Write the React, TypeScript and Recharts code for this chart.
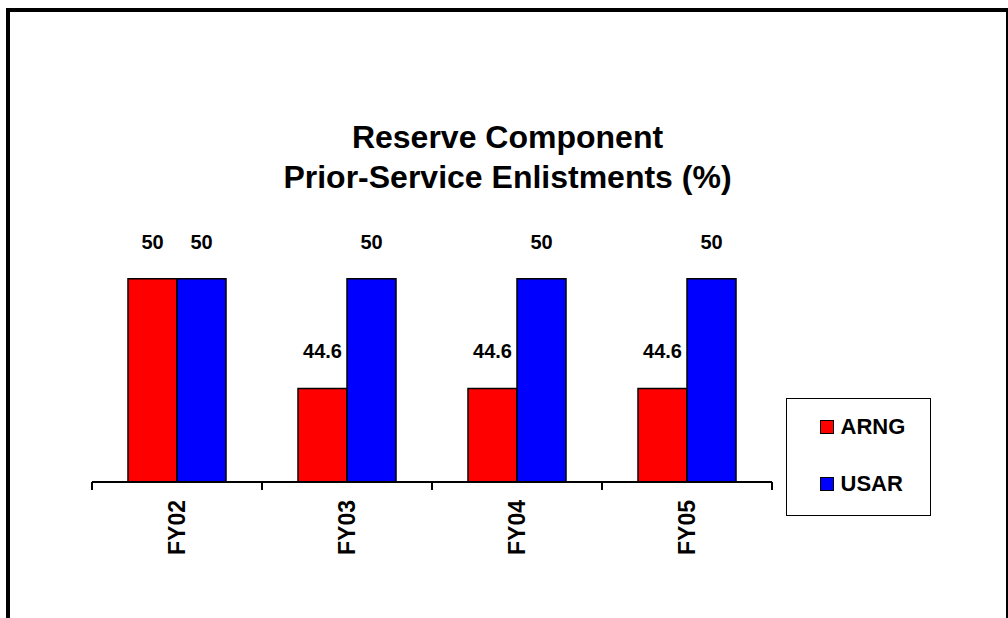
import React from 'react';
import { BarChart, Bar, XAxis, YAxis, LabelList, Legend } from 'recharts';

const categories = ['FY02', 'FY03', 'FY04', 'FY05'];
const arngValues = [50, 44.6, 44.6, 44.6];
const usarValues = [50, 50, 50, 50];
const seriesNames = ['ARNG', 'USAR'];
const seriesColors = ['#FF0000', '#0000FF'];
const titleLines = ['Reserve Component', 'Prior-Service Enlistments (%)'];
const yDomain = [40, 55];

const data = categories.map((c, i) => ({
  category: c,
  [seriesNames[0]]: arngValues[i],
  [seriesNames[1]]: usarValues[i],
}));

const FONT = '"Liberation Sans", Arial, Helvetica, sans-serif';

const CategoryTick = (props: any) => {
  const { x, y, payload, index } = props;
  const half = payload && typeof payload.offset === 'number' ? payload.offset : 85;
  const isLast = index === categories.length - 1;
  return (
    <g>
      <line x1={x - half} x2={x - half} y1={y - 8} y2={y} stroke="#000" strokeWidth={2} />
      {isLast && <line x1={x + half} x2={x + half} y1={y - 8} y2={y} stroke="#000" strokeWidth={2} />}
      <text
        x={x}
        y={y + 10}
        transform={`rotate(-90, ${x}, ${y + 10})`}
        textAnchor="end"
        dy="0.35em"
        fontFamily={FONT}
        fontWeight="bold"
        fontSize={23}
        fill="#000"
      >
        {payload.value}
      </text>
    </g>
  );
};

const LegendBox = (props: any) => {
  const payload = props.payload || [];
  return (
    <div
      style={{
        boxSizing: 'border-box',
        width: 145,
        height: 118,
        border: '1.5px solid #000',
        background: '#fff',
        position: 'relative',
        fontFamily: FONT,
      }}
    >
      {payload.map((p: any, i: number) => (
        <div
          key={p.value}
          style={{
            position: 'absolute',
            left: 32.5,
            top: 17.5 + i * 57,
            height: 20,
            display: 'flex',
            alignItems: 'center',
            whiteSpace: 'nowrap',
          }}
        >
          <span
            style={{
              width: 14,
              height: 14,
              boxSizing: 'border-box',
              background: p.color,
              border: '1.5px solid #000',
              display: 'inline-block',
            }}
          />
          <span style={{ marginLeft: 7, fontSize: 22, fontWeight: 'bold', lineHeight: '20px', color: '#000' }}>
            {p.value}
          </span>
        </div>
      ))}
    </div>
  );
};

export default function App() {
  return (
    <div style={{ position: 'absolute', left: 0, top: 0, width: 1008, height: 618, overflow: 'hidden', background: '#fff' }}>
      <div
        style={{
          position: 'absolute',
          left: 6,
          top: 8,
          width: 1002,
          height: 700,
          boxSizing: 'border-box',
          borderLeft: '4px solid #000',
          borderTop: '4px solid #000',
          borderRight: '2px solid #000',
        }}
      />
      <div style={{ position: 'absolute', left: 0, top: 0 }}>
        <BarChart
          width={1008}
          height={618}
          data={data}
          margin={{ top: 177, right: 236, bottom: 36, left: 92 }}
          barCategoryGap={36}
          barGap={0}
        >
          <XAxis
            dataKey="category"
            height={100}
            axisLine={{ stroke: '#000', strokeWidth: 2 }}
            tickLine={false}
            tickSize={8}
            tickMargin={0}
            tick={<CategoryTick />}
            interval={0}
          />
          <YAxis hide width={0} domain={yDomain} type="number" />
          <Legend
            layout="horizontal"
            verticalAlign="middle"
            align="center"
            content={<LegendBox />}
            wrapperStyle={{ left: 786, top: 398, width: 145, height: 118 }}
          />
          {seriesNames.map((name, i) => (
            <Bar
              key={name}
              dataKey={name}
              fill={seriesColors[i]}
              stroke="#000"
              strokeWidth={1.5}
              isAnimationActive={false}
            >
              <LabelList
                dataKey={name}
                position="top"
                offset={30}
                fill="#000"
                fontSize={20}
                fontWeight="bold"
                fontFamily={FONT}
              />
            </Bar>
          ))}
        </BarChart>
      </div>
      <svg width={1008} height={618} style={{ position: 'absolute', left: 0, top: 0, pointerEvents: 'none' }}>
        {titleLines.map((t, i) => (
          <text
            key={t}
            x={507.5}
            y={148 + i * 40}
            textAnchor="middle"
            fontFamily={FONT}
            fontWeight="bold"
            fontSize={32}
            fill="#000"
          >
            {t}
          </text>
        ))}
      </svg>
    </div>
  );
}
